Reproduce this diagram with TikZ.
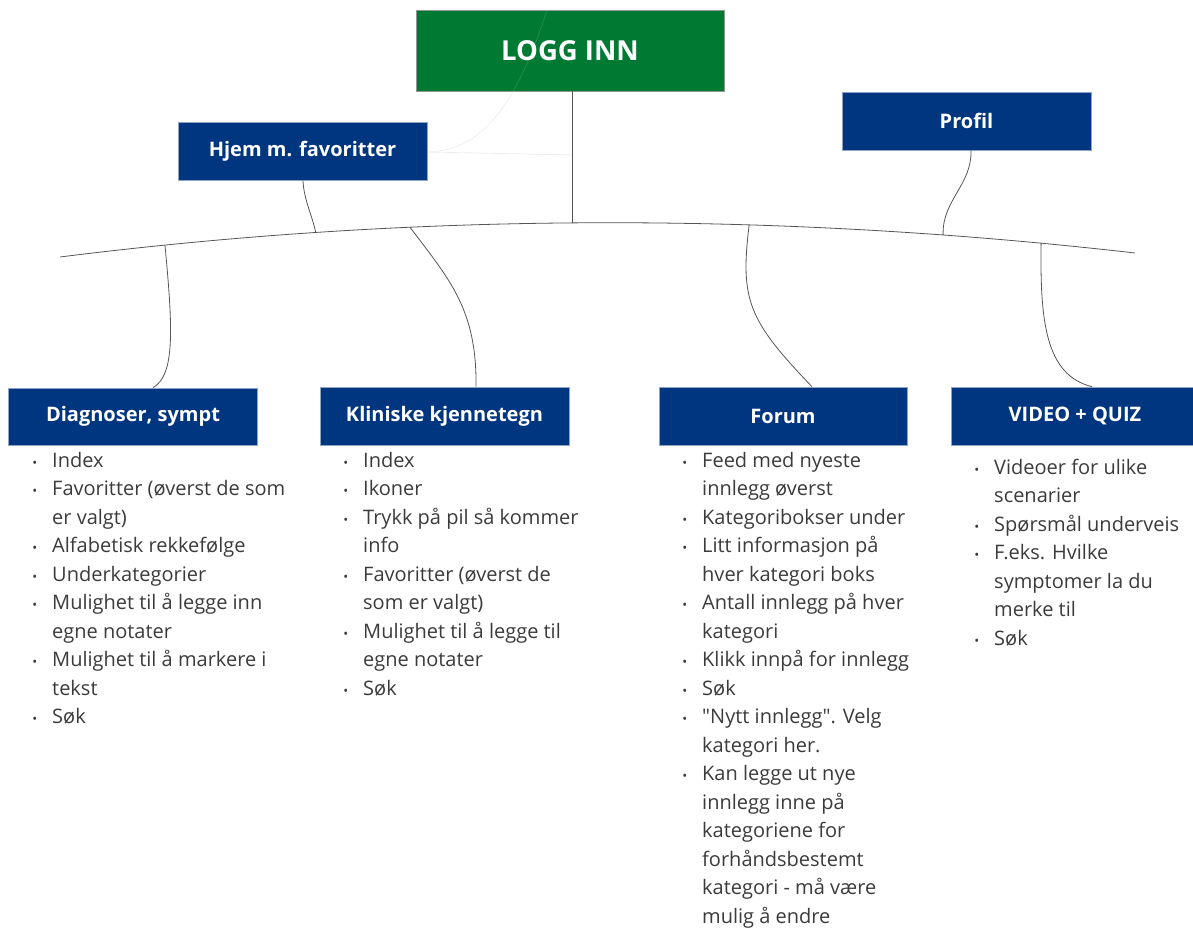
\documentclass[tikz,border=0pt]{standalone}
\usepackage{fontspec}
\setmainfont{Open Sans}[Ligatures=TeXOff]
\definecolor{navy}{HTML}{003580}
\definecolor{navyedge}{HTML}{8FA3C4}
\definecolor{leaf}{HTML}{007A33}
\definecolor{leafedge}{HTML}{8A9A90}
\definecolor{ink}{HTML}{3B3B3B}
\definecolor{wire}{HTML}{555555}
\definecolor{ghost}{HTML}{EDEDED}
% small bullet hung to the left of an item
\newcommand\bul{\leavevmode\llap{{\fontsize{13}{13}\selectfont •}\hspace{15pt}}}
\begin{document}
\begin{tikzpicture}[x=1pt,y=-1pt,
  box/.style={fill=navy,draw=navyedge,line width=0.6pt,text=white,
    font=\fontsize{20}{24}\selectfont\bfseries,minimum width=249pt,minimum height=58pt,inner sep=0pt},
  topbox/.style={fill=leaf,draw=leafedge,line width=0.6pt,text=white,
    font=\fontsize{27.5}{32}\selectfont\bfseries,minimum width=308pt,minimum height=81pt,inner sep=0pt},
  items/.style={anchor=north west,align=left,inner sep=0pt,text=ink,
    font=\fontsize{20}{28.5}\selectfont},
  conn/.style={draw=wire,line width=0.8pt},
  faint/.style={draw=ghost,line width=0.8pt}]
\clip (0,0) rectangle (1193,928);

% helper points for the faint lines drawn behind the boxes
\coordinate (gTop) at (547,10);
\coordinate (gSide) at (428,152);
\coordinate (gMid) at (572,155);
\draw[faint] (gTop) .. controls (515,110) and (480,150) .. (gSide);
\draw[faint] (gSide) -- (gMid);

% boxes
\node[topbox] (login) at (570,50.5) {LOGG INN};
\node[box] (hjem) at (302.5,151.5) {Hjem m. favoritter};
\node[box] (profil) at (966.5,121) {Profil};
\node[box,minimum height=57pt] (diag) at (133,416.5) {Diagnoser, sympt};
\node[box] (klin) at (444.5,416) {Kliniske kjennetegn};
\node[box,minimum width=248pt] (forum) at (783,416) {Forum};
\node[box,minimum width=248pt] (video) at (1075,416) {VIDEO + QUIZ};

% a trace of the faint curve still shows through the green box
\draw[draw=white,line width=0.8pt,opacity=0.12] (gTop) .. controls (515,110) and (480,150) .. (gSide);

% the curved spine with its branch points
\coordinate (L) at (60,257);
\coordinate (R) at (1135,253);
\draw[conn] (L) .. controls (418,212) and (777,212) .. (R)
  coordinate[pos=0.0977] (pD)
  coordinate[pos=0.238] (pH)
  coordinate[pos=0.3256] (pK)
  coordinate[pos=0.4763] (pL)
  coordinate[pos=0.641] (pF)
  coordinate[pos=0.8214] (pP)
  coordinate[pos=0.9126] (pV);

% connectors
\draw[conn] (pL |- login.south) -- (pL);
\draw[conn] ([xshift=0.5pt]hjem.south) .. controls (304,200) and (312,215) .. (pH);
\draw[conn] (pD) .. controls (173,330) and (175,375) .. ([xshift=20pt]diag.north);
\draw[conn] (pK) .. controls (450,280) and (477,310) .. ([xshift=31.5pt]klin.north);
\draw[conn] (pF) .. controls (740,300) and (748,320) .. ([xshift=29pt]forum.north);
\draw[conn] ([xshift=4.5pt]profil.south) .. controls (972,185) and (942,200) .. (pP);
\draw[conn] (pV) .. controls (1040,320) and (1045,375) .. ([xshift=17pt]video.north);

% item lists
\node[items] (diaglist) at (52,447) {\strut\bul Index\\
\bul Favoritter (øverst de som\\ er valgt)\\
\bul Alfabetisk rekkefølge\\
\bul Underkategorier\\
\bul Mulighet til å legge inn\\ egne notater\\
\bul Mulighet til å markere i\\ tekst\\
\bul Søk};

\node[items] (klinlist) at (363,447) {\strut\bul Index\\
\bul Ikoner\\
\bul Trykk på pil så kommer\\ info\\
\bul Favoritter (øverst de\\ som er valgt)\\
\bul Mulighet til å legge til\\ egne notater\\
\bul Søk};

\node[items] (forumlist) at (702,447) {\strut\bul Feed med nyeste\\ innlegg øverst\\
\bul Kategoribokser under\\
\bul Litt informasjon på\\ hver kategori boks\\
\bul Antall innlegg på hver\\ kategori\\
\bul Klikk innpå for innlegg\\
\bul Søk\\
\bul "Nytt innlegg". Velg\\ kategori her.\\
\bul Kan legge ut nye\\ innlegg inne på\\ kategoriene for\\ forhåndsbestemt\\ kategori - må være\\ mulig å endre};

\node[items] (videolist) at (994,454) {\strut\bul Videoer for ulike\\ scenarier\\
\bul Spørsmål underveis\\
\bul F.eks. Hvilke\\ symptomer la du\\ merke til\\
\bul Søk};
\end{tikzpicture}
\end{document}
